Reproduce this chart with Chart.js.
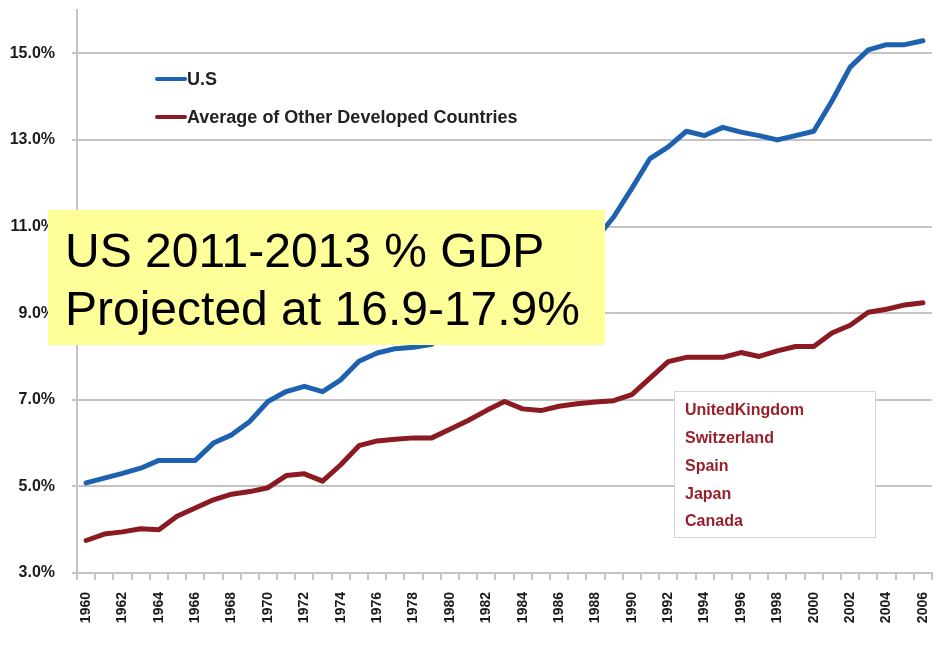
<!DOCTYPE html>
<html>
<head>
<meta charset="utf-8">
<script src="https://cdn.jsdelivr.net/npm/chart.js@4.4.1/dist/chart.umd.min.js"></script>
<style>
  html, body { margin: 0; padding: 0; background: #ffffff; }
  #wrap { position: relative; width: 942px; height: 653px; }
</style>
</head>
<body>
<div id="wrap"><canvas id="chart"></canvas></div>
<script>
// Health spending as a share of GDP, 1960-2006
const years = ['1960','1961','1962','1963','1964','1965','1966','1967','1968','1969',
  '1970','1971','1972','1973','1974','1975','1976','1977','1978','1979',
  '1980','1981','1982','1983','1984','1985','1986','1987','1988','1989',
  '1990','1991','1992','1993','1994','1995','1996','1997','1998','1999',
  '2000','2001','2002','2003','2004','2005','2006'];

const usShare = [5.08, 5.19, 5.30, 5.42, 5.60, 5.60, 5.60, 6.00, 6.19, 6.50,
  6.96, 7.19, 7.31, 7.19, 7.46, 7.89, 8.08, 8.18, 8.21, 8.28,
  8.75, 9.10, 9.80, 10.00, 10.00, 10.20, 10.30, 10.40, 10.70, 11.22,
  11.88, 12.57, 12.84, 13.20, 13.10, 13.29, 13.18, 13.10, 13.00, 13.10,
  13.20, 13.90, 14.68, 15.08, 15.20, 15.20, 15.29];

const otherShare = [3.75, 3.90, 3.95, 4.02, 4.00, 4.31, 4.50, 4.69, 4.82, 4.88,
  4.97, 5.25, 5.29, 5.12, 5.50, 5.94, 6.05, 6.09, 6.12, 6.12,
  6.32, 6.52, 6.75, 6.96, 6.79, 6.75, 6.85, 6.91, 6.95, 6.98,
  7.12, 7.50, 7.88, 7.98, 7.98, 7.98, 8.09, 8.00, 8.13, 8.23,
  8.23, 8.54, 8.72, 9.02, 9.09, 9.19, 9.24];

const yTicks = [3, 5, 7, 9, 11, 13, 15];

const seriesNames = ['U.S', 'Average of Other Developed Countries'];
const countries = ['UnitedKingdom', 'Switzerland', 'Spain', 'Japan', 'Canada'];
const noteLines = ['US 2011-2013 % GDP', 'Projected at 16.9-17.9%'];

const BLUE = '#1d61b0';
const RED = '#8c1a22';
const GRID = '#c4c4c4';

// Legend drawn inside the plot area, top-left
const innerLegend = {
  id: 'innerLegend',
  afterDatasetsDraw(chart) {
    const ctx = chart.ctx;
    const a = chart.chartArea;
    const x0 = a.left + 80, y0 = a.top + 69, gap = 38;
    ctx.save();
    chart.data.datasets.forEach((ds, i) => {
      const y = y0 + i * gap;
      ctx.strokeStyle = ds.borderColor;
      ctx.lineWidth = 4;
      ctx.lineCap = 'round';
      ctx.beginPath();
      ctx.moveTo(x0, y);
      ctx.lineTo(x0 + 28, y);
      ctx.stroke();
      ctx.fillStyle = '#222222';
      ctx.font = 'bold 18px "Liberation Sans", Arial, sans-serif';
      ctx.textBaseline = 'middle';
      ctx.textAlign = 'left';
      ctx.fillText(ds.label, x0 + 30, y + 1);
    });
    ctx.restore();
  }
};

// Country list box and the projection note
const notes = {
  id: 'notes',
  afterDraw(chart) {
    const ctx = chart.ctx;
    ctx.save();
    // country box
    const bx = 674, by = 391, bw = 201, bh = 146;
    ctx.fillStyle = '#ffffff';
    ctx.fillRect(bx, by, bw, bh);
    ctx.strokeStyle = '#d6d6d6';
    ctx.lineWidth = 1;
    ctx.strokeRect(bx + 0.5, by + 0.5, bw, bh);
    ctx.fillStyle = '#98202b';
    ctx.font = 'bold 16px "Liberation Sans", Arial, sans-serif';
    ctx.textBaseline = 'middle';
    ctx.textAlign = 'left';
    countries.forEach((c, i) => ctx.fillText(c, bx + 11, by + 20 + i * 27.7));

    // yellow note
    ctx.fillStyle = '#ffff99';
    ctx.fillRect(48, 210, 557, 135);
    ctx.fillStyle = '#000000';
    ctx.font = '48px "Liberation Sans", Arial, sans-serif';
    ctx.textBaseline = 'alphabetic';
    ctx.fillText(noteLines[0], 65, 267);
    ctx.fillText(noteLines[1], 65, 325);
    ctx.restore();
  }
};

new Chart(document.getElementById('chart'), {
  type: 'line',
  data: {
    labels: years,
    datasets: [
      { label: seriesNames[0], data: usShare, borderColor: BLUE, backgroundColor: BLUE,
        borderWidth: 5, pointRadius: 0, tension: 0, borderCapStyle: 'round', borderJoinStyle: 'round' },
      { label: seriesNames[1], data: otherShare, borderColor: RED, backgroundColor: RED,
        borderWidth: 5, pointRadius: 0, tension: 0, borderCapStyle: 'round', borderJoinStyle: 'round' }
    ]
  },
  options: {
    responsive: true,
    maintainAspectRatio: false,
    animation: false,
    layout: { padding: { top: 10, right: 10, left: 0, bottom: 0 } },
    plugins: { legend: { display: false }, tooltip: { enabled: false } },
    scales: {
      x: {
        offset: true,
        grid: { offset: true, drawOnChartArea: false, drawTicks: true, tickLength: 7, color: GRID, lineWidth: 2 },
        border: { display: true, color: GRID, width: 2 },
        ticks: {
          autoSkip: false, maxRotation: 90, minRotation: 90, padding: 12,
          color: '#1a1a1a',
          font: { family: '"Liberation Sans", Arial, sans-serif', size: 14, weight: 'bold' },
          callback: (v, i) => (i % 2 === 0 ? years[i] : '')
        },
        afterFit: (s) => { s.height = 80; s.paddingLeft = 0; s.paddingRight = 0; }
      },
      y: {
        min: 3, max: 16,
        afterBuildTicks: (s) => { s.ticks = yTicks.map(v => ({ value: v })); },
        grid: { color: GRID, lineWidth: 2, tickLength: 5 },
        border: { display: true, color: GRID, width: 2 },
        ticks: {
          padding: 17, color: '#1a1a1a',
          font: { family: '"Liberation Sans", Arial, sans-serif', size: 16, weight: 'bold' },
          callback: (v) => v.toFixed(1) + '%'
        },
        afterFit: (s) => { s.width = 77; s.paddingTop = 0; s.paddingBottom = 0; }
      }
    }
  },
  plugins: [innerLegend, notes]
});
</script>
</body>
</html>
